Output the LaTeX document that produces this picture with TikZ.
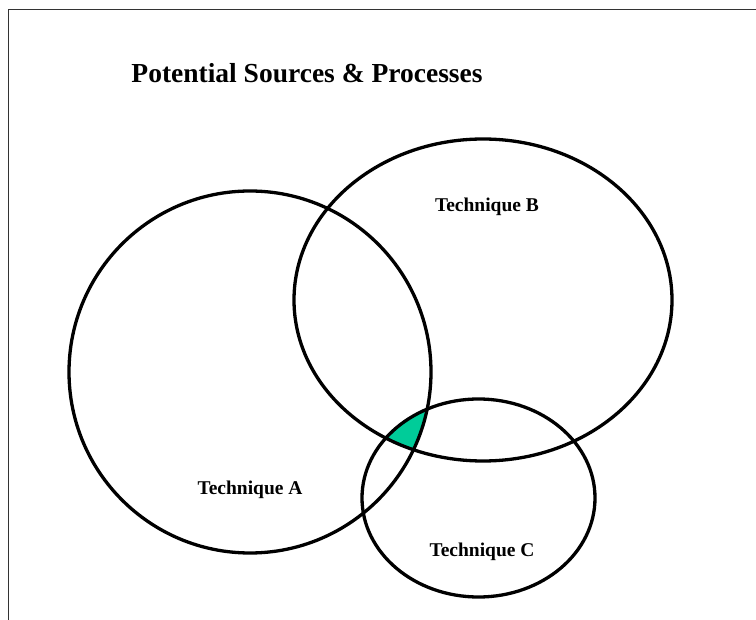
\documentclass[tikz,border=0pt]{standalone}
\usepackage{fontspec}
\setmainfont{Liberation Serif}
\definecolor{overlap}{RGB}{0,204,153}
\begin{document}
\begin{tikzpicture}[x=1pt,y=-1pt,
  ring/.style={draw=black,line width=3.3pt},
  label/.style={font=\bfseries\fontsize{19.5}{22}\selectfont,inner sep=0pt}]
\useasboundingbox (0,0) rectangle (756,620);
% page frame (only the upper and left edges fall inside the view)
\draw[line width=1pt,black!80] (8.5,620) -- (8.5,10) -- (756,10);
% common area of the three techniques
\begin{scope}
  \clip (250,372) circle [radius=181];
  \clip (483,300) ellipse [x radius=189,y radius=161];
  \fill[overlap] (478.5,498) ellipse [x radius=116.5,y radius=99];
\end{scope}
\draw[ring] (250,372) circle [radius=181];
\draw[ring] (483,300) ellipse [x radius=189,y radius=161];
\draw[ring] (478.5,498) ellipse [x radius=116.5,y radius=99];
\node[font=\bfseries\fontsize{27.5}{30}\selectfont] (title) at (307,73) {Potential Sources \& Processes};
\node[label] (ta) at (250,490) {Technique A};
\node[label] (tb) at (487,207) {Technique B};
\node[label] (tc) at (482,552) {Technique C};
\end{tikzpicture}
\end{document}
